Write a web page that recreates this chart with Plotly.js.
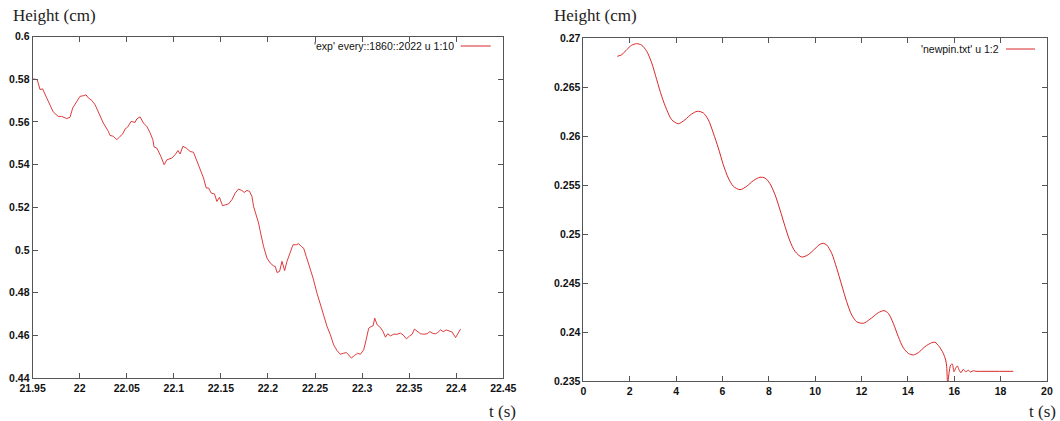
<!DOCTYPE html>
<html>
<head>
<meta charset="utf-8">
<script src="https://cdn.plot.ly/plotly-3.0.1.min.js"></script>
<style>html,body{margin:0;padding:0;background:#fff;}#chart{width:1060px;height:421px;}</style>
</head>
<body>
<div id="chart"></div>
<script>
// ---- Left panel: experiment ----
const leftT = [21.9506,21.9549,21.9578,21.9606,21.9649,21.9684,21.9719,21.9772,21.9809,21.9862,
21.9897,21.9926,21.9968,22.0003,22.0038,22.0067,22.0091,22.0128,22.0163,22.0216,
22.0251,22.0304,22.0322,22.0357,22.0394,22.0429,22.0457,22.0482,22.0511,22.0546,
22.0588,22.0606,22.0641,22.0677,22.0713,22.0748,22.0777,22.0790,22.0819,22.0862,
22.0897,22.0926,22.0979,22.1014,22.1043,22.1067,22.1096,22.1131,22.1173,22.1209,
22.1245,22.1280,22.1315,22.1344,22.1368,22.1397,22.1432,22.1457,22.1485,22.1517,
22.1546,22.1581,22.1617,22.1652,22.1687,22.1723,22.1748,22.1777,22.1804,22.1830,
22.1847,22.1876,22.1900,22.1926,22.1953,22.1989,22.2024,22.2060,22.2078,22.2096,
22.2123,22.2149,22.2177,22.2202,22.2230,22.2266,22.2301,22.2326,22.2354,22.2379,
22.2407,22.2443,22.2479,22.2521,22.2556,22.2591,22.2628,22.2663,22.2698,22.2734,
22.2769,22.2804,22.2833,22.2857,22.2886,22.2918,22.2953,22.2982,22.3017,22.3043,
22.3070,22.3096,22.3117,22.3134,22.3160,22.3195,22.3223,22.3248,22.3272,22.3301,
22.3336,22.3372,22.3407,22.3436,22.3471,22.3506,22.3532,22.3556,22.3585,22.3620,
22.3655,22.3691,22.3719,22.3745,22.3780,22.3804,22.3833,22.3862,22.3894,22.3921,
22.3957,22.3993,22.4017,22.4046];
const leftH = [0.5802,0.5798,0.5752,0.5755,0.5713,0.5681,0.5647,0.5626,0.5626,0.5616,
0.5622,0.5666,0.5697,0.5720,0.5723,0.5727,0.5713,0.5701,0.5681,0.5626,
0.5595,0.5556,0.5537,0.5533,0.5517,0.5533,0.5544,0.5567,0.5577,0.5603,
0.5598,0.5614,0.5624,0.5595,0.5579,0.5549,0.5517,0.5483,0.5478,0.5439,
0.5400,0.5423,0.5431,0.5447,0.5466,0.5450,0.5486,0.5478,0.5462,0.5458,
0.5415,0.5376,0.5338,0.5291,0.5291,0.5267,0.5263,0.5228,0.5247,0.5208,
0.5212,0.5216,0.5236,0.5267,0.5286,0.5279,0.5270,0.5279,0.5275,0.5251,
0.5204,0.5166,0.5127,0.5072,0.5017,0.4963,0.4939,0.4926,0.4923,0.4895,
0.4900,0.4947,0.4904,0.4947,0.4986,0.5025,0.5025,0.5030,0.5017,0.5009,
0.4970,0.4923,0.4869,0.4798,0.4744,0.4697,0.4642,0.4603,0.4556,0.4529,
0.4512,0.4517,0.4520,0.4509,0.4494,0.4506,0.4517,0.4512,0.4533,0.4580,
0.4634,0.4642,0.4645,0.4681,0.4650,0.4637,0.4618,0.4592,0.4608,0.4598,
0.4606,0.4606,0.4611,0.4603,0.4584,0.4598,0.4606,0.4630,0.4618,0.4608,
0.4606,0.4608,0.4618,0.4611,0.4608,0.4614,0.4626,0.4618,0.4626,0.4622,
0.4616,0.4590,0.4611,0.4630];
const leftName = "'exp' every::1860::2022 u 1:10";
const leftXTicks = [21.95,22,22.05,22.1,22.15,22.2,22.25,22.3,22.35,22.4,22.45];
const leftXTickText = ["21.95","22","22.05","22.1","22.15","22.2","22.25","22.3","22.35","22.4","22.45"];
const leftYTicks = [0.44,0.46,0.48,0.5,0.52,0.54,0.56,0.58,0.6];
const leftYTickText = ["0.44","0.46","0.48","0.5","0.52","0.54","0.56","0.58","0.6"];

// ---- Right panel: simulation ----
const rightT = [1.462,1.652,1.868,2.084,2.299,2.515,2.731,2.947,3.162,3.378,
3.594,3.809,4.094,4.383,4.672,4.914,5.173,5.388,5.604,5.820,
6.035,6.251,6.467,6.756,7.045,7.330,7.619,7.834,8.050,8.266,
8.481,8.697,8.913,9.128,9.418,9.702,9.991,10.207,10.349,10.496,
10.712,10.928,11.143,11.359,11.575,11.790,12.075,12.364,12.722,12.968,
13.154,13.369,13.585,13.801,14.017,14.232,14.448,14.737,15.026,15.168,
15.354,15.526,15.630,15.673,15.716,15.772,15.846,15.915,15.988,16.061,
16.130,16.204,16.290,16.389,16.493,16.605,16.709,16.821,16.937,17.036,18.546];
const rightH = [0.26818,0.26834,0.26886,0.26931,0.26947,0.26931,0.26869,0.26750,0.26579,0.26409,
0.26272,0.26170,0.26129,0.26170,0.26228,0.26256,0.26239,0.26170,0.26034,0.25881,
0.25710,0.25574,0.25490,0.25455,0.25490,0.25547,0.25582,0.25574,0.25516,0.25404,
0.25250,0.25081,0.24928,0.24825,0.24767,0.24791,0.24852,0.24897,0.24907,0.24890,
0.24805,0.24652,0.24481,0.24310,0.24175,0.24106,0.24090,0.24131,0.24198,0.24219,
0.24192,0.24090,0.23953,0.23840,0.23783,0.23766,0.23789,0.23851,0.23891,0.23896,
0.23851,0.23783,0.23715,0.23646,0.23470,0.23579,0.23664,0.23674,0.23595,0.23630,
0.23653,0.23616,0.23585,0.23620,0.23595,0.23609,0.23592,0.23605,0.23599,0.23599,0.23599];
const rightName = "'newpin.txt' u 1:2";
const rightXTicks = [0,2,4,6,8,10,12,14,16,18,20];
const rightXTickText = ["0","2","4","6","8","10","12","14","16","18","20"];
const rightYTicks = [0.235,0.24,0.245,0.25,0.255,0.26,0.265,0.27];
const rightYTickText = ["0.235","0.24","0.245","0.25","0.255","0.26","0.265","0.27"];

const yTitle = "Height (cm)";
const xTitle = "t (s)";

const lineColor = "#d92626";
const axisColor = "#555555";
const tickFont = {family: "Liberation Sans, Arial, sans-serif", size: 10.5, color: "#111", weight: "bold"};
const titleFont = {family: "Liberation Serif, Times New Roman, serif", size: 17, color: "#222"};
const legFont = {family: "Liberation Sans, Arial, sans-serif", size: 10.5, color: "#111"};

function axis(extra) {
  return Object.assign({
    showline: true, linecolor: axisColor, linewidth: 1, mirror: "ticks",
    ticks: "inside", ticklen: 5, tickcolor: axisColor, tickwidth: 1,
    showgrid: false, zeroline: false, tickfont: tickFont, fixedrange: true
  }, extra);
}

const traces = [
  {x: leftT, y: leftH, type: "scatter", mode: "lines", name: leftName,
   line: {color: lineColor, width: 0.9}, xaxis: "x", yaxis: "y", cliponaxis: true},
  {x: rightT, y: rightH, type: "scatter", mode: "lines", name: rightName,
   line: {color: lineColor, width: 1, shape: "spline", smoothing: 0.8}, xaxis: "x2", yaxis: "y2", cliponaxis: true}
];

const layout = {
  width: 1060, height: 421,
  margin: {l: 0, r: 0, t: 0, b: 0},
  paper_bgcolor: "#ffffff", plot_bgcolor: "#ffffff",
  showlegend: false,
  xaxis: axis({domain: [0.0308, 0.4748], range: [21.95, 22.45], tickvals: leftXTicks, ticktext: leftXTickText, anchor: "y"}),
  yaxis: axis({domain: [0.1017, 0.9131], range: [0.44, 0.6], tickvals: leftYTicks, ticktext: leftYTickText, anchor: "x"}),
  xaxis2: axis({domain: [0.5504, 0.9877], range: [0, 20], tickvals: rightXTicks, ticktext: rightXTickText, anchor: "y2"}),
  yaxis2: axis({domain: [0.0950, 0.9086], range: [0.235, 0.27], tickvals: rightYTicks, ticktext: rightYTickText, anchor: "x2"}),
  annotations: [
    {text: yTitle, xref: "paper", yref: "paper", x: 0.010, y: 0.962, xanchor: "left", yanchor: "middle", showarrow: false, font: titleFont},
    {text: yTitle, xref: "paper", yref: "paper", x: 0.5208, y: 0.962, xanchor: "left", yanchor: "middle", showarrow: false, font: titleFont},
    {text: xTitle, xref: "paper", yref: "paper", x: 0.4885, y: 0.0214, xanchor: "right", yanchor: "middle", showarrow: false, font: titleFont},
    {text: xTitle, xref: "paper", yref: "paper", x: 0.9985, y: 0.0214, xanchor: "right", yanchor: "middle", showarrow: false, font: titleFont},
    {text: leftName, xref: "paper", yref: "paper", x: 0.4302, y: 0.8907, xanchor: "right", yanchor: "middle", showarrow: false, font: legFont},
    {text: rightName, xref: "paper", yref: "paper", x: 0.9444, y: 0.8836, xanchor: "right", yanchor: "middle", showarrow: false, font: legFont}
  ],
  shapes: [
    {type: "line", xref: "paper", yref: "paper", x0: 0.4346, x1: 0.4629, y0: 0.8907, y1: 0.8907, line: {color: lineColor, width: 1}},
    {type: "line", xref: "paper", yref: "paper", x0: 0.9491, x1: 0.9764, y0: 0.8836, y1: 0.8836, line: {color: lineColor, width: 1}}
  ]
};

Plotly.newPlot("chart", traces, layout, {displayModeBar: false, staticPlot: true});
</script>
</body>
</html>
